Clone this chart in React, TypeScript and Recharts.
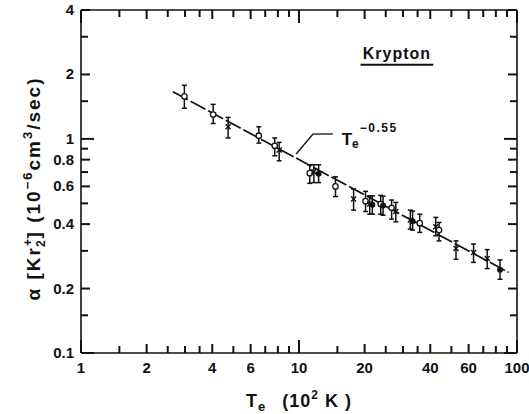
import {
  ScatterChart,
  Scatter,
  XAxis,
  YAxis,
  ErrorBar,
  ReferenceLine,
  ReferenceDot,
} from "recharts";

// electron temperature (10^2 K)
const temps = [
  2.98, 4.04, 4.73, 6.54, 7.74, 8.11, 11.2, 11.7, 12.3, 14.7, 17.8, 20.2, 21.1, 21.7,
  23.7, 24.3, 26.6, 27.8, 32.4, 33.2, 35.8, 42.4, 43.9, 52.5, 63.2, 73.0, 83.6,
];
// recombination coefficient (10^-6 cm^3/sec)
const alphas = [
  1.58, 1.3, 1.14, 1.035, 0.929, 0.887, 0.692, 0.703, 0.687, 0.6, 0.524, 0.512, 0.496, 0.492,
  0.496, 0.488, 0.477, 0.458, 0.418, 0.413, 0.404, 0.389, 0.375, 0.308, 0.295, 0.276, 0.245,
];
const alphaLow = [
  1.39, 1.18, 1.01, 0.956, 0.834, 0.79, 0.62, 0.625, 0.625, 0.538, 0.465, 0.458, 0.445, 0.445,
  0.445, 0.44, 0.422, 0.41, 0.379, 0.375, 0.366, 0.353, 0.334, 0.274, 0.265, 0.248, 0.221,
];
const alphaHigh = [
  1.78, 1.45, 1.26, 1.14, 1.01, 0.963, 0.757, 0.757, 0.757, 0.665, 0.583, 0.569, 0.542, 0.542,
  0.545, 0.54, 0.518, 0.505, 0.465, 0.46, 0.445, 0.43, 0.407, 0.334, 0.323, 0.304, 0.272,
];
const markers = [
  "o", "o", "x", "o", "o", "x", "o", "x", "dot", "o", "x", "o", "x", "dot",
  "o", "dot", "o", "x", "x", "dot", "o", "x", "o", "x", "x", "x", "dot",
];

// T_e^-0.55 fit, end points
const fitT = [2.64, 91.5];
const fitAlpha = [1.66, 0.238];

const xTicks = [1, 1.5, 2, 2.5, 3, 3.5, 4, 5, 6, 7, 8, 9, 10, 15, 20, 25, 30, 35, 40, 50, 60, 70, 80, 90, 100];
const xLabeled = [1, 2, 4, 6, 10, 20, 40, 60, 100];
const yTicks = [0.1, 0.15, 0.2, 0.3, 0.4, 0.5, 0.6, 0.7, 0.8, 0.9, 1, 1.5, 2, 3, 4];
const yLabeled = [0.1, 0.2, 0.4, 0.6, 0.8, 1, 2, 4];

const X_MIN = 1;
const X_MAX = 100;
const Y_MIN = 0.1;
const Y_MAX = 4;

const points = temps.map((t, i) => ({
  t,
  a: alphas[i],
  err: [alphas[i] - alphaLow[i], alphaHigh[i] - alphas[i]],
  kind: markers[i],
}));
const fitData = fitT.map((t, i) => ({ t, a: fitAlpha[i] }));

// inward frame ticks, placed on the four edges of the box through the scales
const frameTicks = [
  ...xTicks.map((v) => ({ t: v, a: Y_MIN, side: "bottom", v })),
  ...xTicks.map((v) => ({ t: v, a: Y_MAX, side: "top", v })),
  ...yTicks.map((v) => ({ t: X_MIN, a: v, side: "left", v })),
  ...yTicks.map((v) => ({ t: X_MAX, a: v, side: "right", v })),
];

const INK = "#111";
const FONT = "'Liberation Sans', Arial, sans-serif";

const tickLen = (v: number, labeled: number[]) => {
  const lg = Math.log10(v);
  if (Math.abs(lg - Math.round(lg)) < 1e-6) return 13;
  if (labeled.includes(v)) return 9;
  return 7;
};

const FrameTick = (props: any) => {
  const { cx, cy, payload } = props;
  if (cx == null || cy == null) return <g />;
  const { side, v } = payload;
  const horiz = side === "left" || side === "right";
  const len = tickLen(v, horiz ? yLabeled : xLabeled);
  let x2 = cx;
  let y2 = cy;
  if (side === "bottom") y2 = cy - len;
  if (side === "top") y2 = cy + len;
  if (side === "left") x2 = cx + len;
  if (side === "right") x2 = cx - len;
  return (
    <g stroke={INK} strokeWidth={2}>
      <line x1={cx} y1={cy} x2={x2} y2={y2} />
    </g>
  );
};

const BottomLabel = (props: any) => {
  const { x, y, payload } = props;
  const v = payload.value;
  if (!xLabeled.includes(v)) return <g />;
  return (
    <text x={x} y={y + 20} textAnchor="middle" fontSize={15} fontWeight="bold" fill={INK} fontFamily={FONT}>
      {v}
    </text>
  );
};

const LeftLabel = (props: any) => {
  const { x, y, payload } = props;
  const v = payload.value;
  if (!yLabeled.includes(v)) return <g />;
  return (
    <text x={x - 7} y={y + 5} textAnchor="end" fontSize={15} fontWeight="bold" fill={INK} fontFamily={FONT}>
      {v}
    </text>
  );
};

const Marker = (props: any) => {
  const { cx, cy, payload } = props;
  if (cx == null || cy == null) return <g />;
  if (payload.kind === "x") {
    return (
      <g stroke={INK} strokeWidth={1.4}>
        <line x1={cx - 2.5} y1={cy - 2.5} x2={cx + 2.5} y2={cy + 2.5} />
        <line x1={cx - 2.5} y1={cy + 2.5} x2={cx + 2.5} y2={cy - 2.5} />
      </g>
    );
  }
  if (payload.kind === "dot") return <circle cx={cx} cy={cy} r={3} fill={INK} />;
  return <circle cx={cx} cy={cy} r={2.7} fill="#fff" stroke={INK} strokeWidth={1.3} />;
};

const XTitle = (props: any) => {
  const { x, y, width } = props.viewBox;
  return (
    <text
      x={x + width / 2}
      y={y + 54}
      textAnchor="middle"
      fontSize={18}
      fontWeight="bold"
      fill={INK}
      fontFamily={FONT}
      letterSpacing={1}
    >
      <tspan>T</tspan>
      <tspan dy={4} fontSize={13}>e</tspan>
      <tspan dy={-4} dx={16}>(10</tspan>
      <tspan dy={-8} fontSize={12}>2</tspan>
      <tspan dy={8}> K )</tspan>
    </text>
  );
};

const YTitle = (props: any) => {
  const { x, y, height } = props.viewBox;
  const cx = x + 40;
  const cy = y + height / 2 + 7;
  return (
    <text
      x={cx}
      y={cy}
      transform={`rotate(-90 ${cx} ${cy})`}
      textAnchor="middle"
      fontSize={19}
      fontWeight="bold"
      fill={INK}
      fontFamily={FONT}
      letterSpacing={2}
    >
      <tspan>α [Kr</tspan>
      <tspan dy={-8} fontSize={12}>+</tspan>
      <tspan dx={-10} dy={13} fontSize={12}>2</tspan>
      <tspan dy={-5}>]  (10</tspan>
      <tspan dy={-8} fontSize={13}>−6</tspan>
      <tspan dy={8}>cm</tspan>
      <tspan dy={-8} fontSize={13}>3</tspan>
      <tspan dy={8}>/sec)</tspan>
    </text>
  );
};

const FitLabel = (props: any) => {
  const { x, y } = props.viewBox;
  return (
    <text x={x} y={y} fill={INK} fontFamily={FONT} fontSize={17} fontWeight="bold">
      <tspan>T</tspan>
      <tspan dy={3} fontSize={12}>e</tspan>
      <tspan dy={-16} dx={1} fontSize={12} letterSpacing={1.5}>−0.55</tspan>
    </text>
  );
};

const App = () => {
  return (
    <div style={{ width: 529, height: 414 }}>
      <style>{"html,body{margin:0;padding:0;overflow:hidden;background:#fff}"}</style>
      <ScatterChart width={529} height={414} margin={{ top: 10, right: 12, left: 0, bottom: 0 }}>
        <XAxis
          dataKey="t"
          type="number"
          scale="log"
          domain={[X_MIN, X_MAX]}
          ticks={xTicks}
          interval={0}
          tickSize={0}
          tickMargin={0}
          tickLine={false}
          tick={<BottomLabel />}
          axisLine={{ stroke: INK, strokeWidth: 1.6 }}
          height={61}
          label={XTitle}
        />
        <YAxis
          dataKey="a"
          type="number"
          scale="log"
          domain={[Y_MIN, Y_MAX]}
          ticks={yTicks}
          interval={0}
          tickSize={0}
          tickMargin={0}
          tickLine={false}
          tick={<LeftLabel />}
          axisLine={{ stroke: INK, strokeWidth: 1.6 }}
          width={81}
          label={YTitle}
        />
        <ReferenceLine y={Y_MAX} stroke={INK} strokeWidth={1.6} />
        <ReferenceLine x={X_MAX} stroke={INK} strokeWidth={1.6} />
        <Scatter data={frameTicks} dataKey="a" shape={<FrameTick />} isAnimationActive={false} />
        <Scatter
          data={fitData}
          dataKey="a"
          line={{ stroke: INK, strokeWidth: 1.7, strokeDasharray: "17 3" }}
          shape={() => <g />}
          isAnimationActive={false}
        />
        <Scatter data={points} dataKey="a" shape={<Marker />} isAnimationActive={false}>
          <ErrorBar dataKey="err" direction="y" width={2.5} stroke={INK} strokeWidth={1.5} />
        </Scatter>
        <ReferenceLine
          segment={[{ x: 11.6, y: 1.054 }, { x: 14.3, y: 1.054 }]}
          stroke={INK}
          strokeWidth={1.3}
        />
        <ReferenceLine
          segment={[{ x: 11.6, y: 1.054 }, { x: 9.7, y: 0.85 }]}
          stroke={INK}
          strokeWidth={1.3}
        />
        <ReferenceDot x={15.7} y={0.936} r={0} fill="none" stroke="none" label={FitLabel} />
        <ReferenceLine
          segment={[{ x: 19.15, y: 2.22 }, { x: 41.3, y: 2.22 }]}
          stroke={INK}
          strokeWidth={1.8}
          label={{
            value: "Krypton",
            position: "top",
            offset: 6,
            fontSize: 16,
            fontWeight: "bold",
            fill: INK,
            fontFamily: FONT,
            letterSpacing: 1,
          }}
        />
      </ScatterChart>
    </div>
  );
};

export default App;
